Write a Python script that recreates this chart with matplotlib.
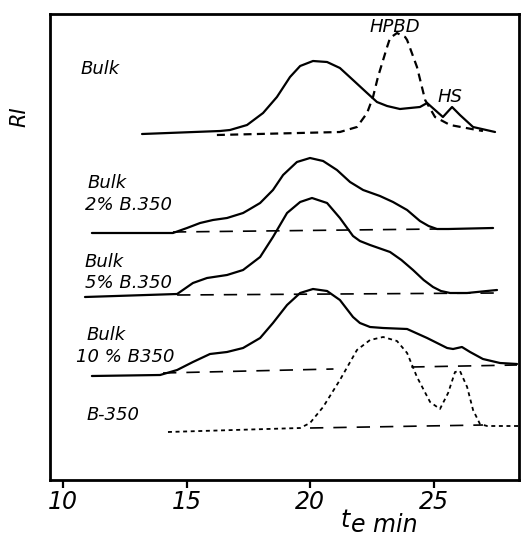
import matplotlib
matplotlib.use("Agg")
import matplotlib.pyplot as plt

# ---------------- data (elution time t_e in min, RI signal in arbitrary units) -------------
bulk_t = [13.20, 16.36, 16.76, 17.45, 18.10, 18.66, 19.19, 19.60, 20.12, 20.69, 21.21,
          21.74, 22.31, 22.71, 23.12, 23.64, 24.45, 24.74, 25.06, 25.38, 25.75, 26.07,
          26.60, 27.49]
bulk_ri = [346, 349, 350, 355, 367, 383, 403, 414, 419, 418, 412,
           400, 387, 378, 374, 371, 373, 377, 370, 363, 373, 365,
           353, 348]

hpbd_t = [16.23, 21.21, 21.90, 22.31, 22.55, 22.75, 23.12, 23.24, 23.52, 23.85, 23.93,
          24.33, 24.66, 25.06, 25.67, 26.76, 27.00]
hpbd_ri = [345, 348, 353, 367, 383, 403, 433, 442, 447, 443, 440,
           413, 380, 363, 355, 350, 349]

b2_t = [11.17, 14.45, 15.02, 15.55, 16.07, 16.64, 17.29, 17.57, 17.98, 18.26, 18.50,
        18.91, 19.47, 20.00, 20.53, 21.09, 21.62, 22.15, 22.83, 23.36, 23.93, 24.45,
        24.80, 25.14, 25.60, 27.41]
b2_ri = [247, 247, 252, 257, 260, 262, 267, 271, 277, 284, 290,
         305, 318, 322, 319, 310, 298, 290, 284, 278, 270, 259,
         254, 251, 251, 252]
b2_base_t = [14.45, 25.14]
b2_base_ri = [248, 251]

b5_t = [10.89, 14.62, 15.26, 15.83, 16.64, 17.29, 17.98, 18.50, 19.07, 19.60, 20.08,
        20.69, 21.21, 21.74, 22.02, 22.43, 23.24, 23.70, 24.17, 24.60, 24.98, 25.30,
        25.67, 26.36, 27.57]
b5_ri = [183, 186, 197, 202, 205, 210, 223, 243, 267, 278, 282,
         277, 262, 244, 239, 235, 228, 220, 210, 200, 193, 189,
         187, 187, 190]
b5_base_t = [14.62, 27.57]
b5_base_ri = [185, 187]

b10_t = [11.17, 13.93, 14.62, 15.26, 15.95, 16.64, 17.29, 17.98, 18.50, 19.07, 19.60,
         20.12, 20.69, 21.21, 21.74, 22.02, 22.43, 22.96, 23.93, 24.74, 25.55, 25.79,
         26.15, 26.48, 27.00, 27.69, 28.38]
b10_ri = [104, 105, 110, 118, 126, 128, 132, 142, 157, 175, 187,
          191, 189, 180, 163, 157, 153, 152, 151, 142, 132, 131,
          133, 128, 121, 117, 116]
b10_base1_t = [14.05, 20.95]
b10_base1_ri = [107, 111]
b10_base2_t = [24.10, 28.38]
b10_base2_ri = [113, 115]

b350_t = [14.25, 19.60, 20.00, 20.53, 21.21, 21.90, 22.43, 22.96, 23.52, 23.93, 24.33,
          24.86, 25.26, 25.59, 25.87, 26.07, 26.36, 26.60, 26.88, 27.17, 28.42]
b350_ri = [48, 52, 57, 73, 100, 130, 140, 143, 139, 127, 103,
           78, 71, 87, 108, 109, 93, 70, 56, 54, 54]
b350_base_t = [20.00, 27.00]
b350_base_ri = [52, 55]

xticks = [10, 15, 20, 25]
xtick_labels = ["10", "15", "20", "25"]

# ---------------- figure ----------------
W, H = 521, 537
fig = plt.figure(figsize=(W / 100, H / 100), dpi=100)
ax = fig.add_axes([50 / W, 57 / H, 469 / W, 466 / H])

lw = 1.6
solid = dict(color="black", lw=lw, solid_capstyle="round", solid_joinstyle="round")
base = dict(color="black", lw=1.2, linestyle=(0, (8, 6)))

ax.plot(bulk_t, bulk_ri, **solid)
ax.plot(hpbd_t, hpbd_ri, color="black", lw=lw, linestyle=(0, (3.6, 2.4)))

ax.plot(b2_t, b2_ri, **solid)
ax.plot(b2_base_t, b2_base_ri, **base)

ax.plot(b5_t, b5_ri, **solid)
ax.plot(b5_base_t, b5_base_ri, **base)

ax.plot(b10_t, b10_ri, **solid)
ax.plot(b10_base1_t, b10_base1_ri, **base)
ax.plot(b10_base2_t, b10_base2_ri, **base)

ax.plot(b350_t, b350_ri, color="black", lw=1.3, linestyle=(0, (2.2, 2.0)))
ax.plot(b350_base_t, b350_base_ri, **base)

ax.set_xlim(9.474, 28.46)
ax.set_ylim(0, 466)

for s in ax.spines.values():
    s.set_linewidth(2.0)
ax.set_yticks([])
ax.set_xticks(xticks)
ax.set_xticklabels(xtick_labels, fontsize=17, style="italic")
ax.tick_params(axis="x", direction="out", length=5.5, width=1.6, pad=2)

tk = dict(fontsize=13, style="italic", va="center", ha="left")
ax.text(10.69, 411, "Bulk", **tk)
ax.text(23.44, 453, "HPBD", fontsize=13, style="italic", va="center", ha="center")
ax.text(25.67, 383, "HS", fontsize=13, style="italic", va="center", ha="center")
ax.text(11.01, 297, "Bulk", **tk)
ax.text(10.89, 275, "2% B.350", **tk)
ax.text(10.89, 218, "Bulk", **tk)
ax.text(10.89, 197, "5% B.350", **tk)
ax.text(10.97, 145, "Bulk", **tk)
ax.text(10.53, 123, "10 % B350", **tk)
ax.text(10.97, 65, "B-350", **tk)

fig.text(19 / W, 1 - 117 / H, "RI", rotation=90, fontsize=15, style="italic",
         ha="center", va="center")
fig.text(340 / W, 1 - 527 / H, "t", fontsize=17, style="italic", ha="left", va="baseline")
fig.text(351 / W, 1 - 532 / H, "e min", fontsize=17, style="italic", ha="left", va="baseline")

fig.savefig("out.png", dpi=100, facecolor="white")
